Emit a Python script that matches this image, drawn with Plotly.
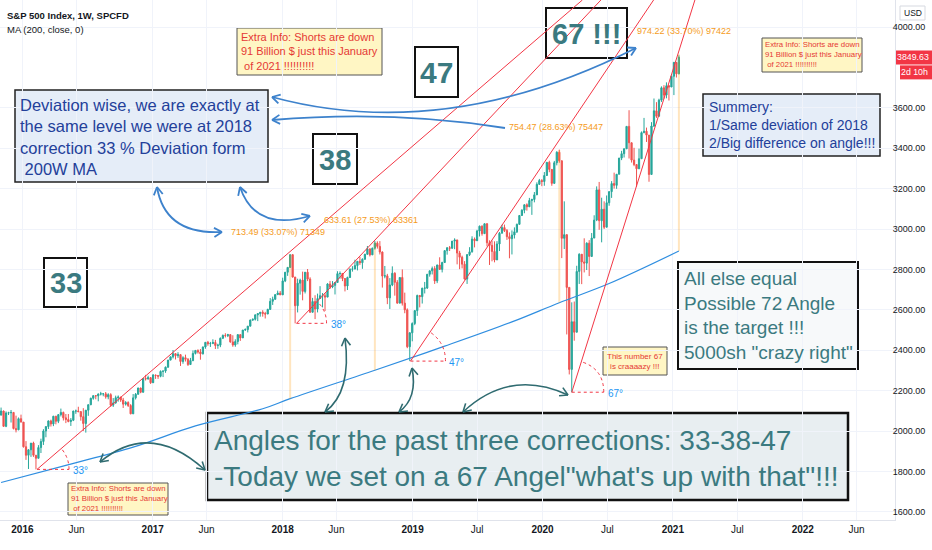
import math
import pandas as pd
import plotly.graph_objects as go

# ---------------- data (weekly S&P 500 CFD) ----------------
first_open = 2079
last_week = "2021-01-18"

close_2015 = [2099, 2023, 2089, 2090, 2092, 2012, 2006, 2061, 2044]
high_2015 = [2116, 2101, 2097, 2095, 2104, 2093, 2076, 2067, 2081]
low_2015 = [2076, 2022, 2019, 2079, 2042, 2008, 1993, 2004, 2043]

close_2016 = [1922, 1880, 1907, 1940, 1880, 1865, 1918, 1948, 2000, 2022, 2050, 2035, 2073, 2048, 2081, 2092,
              2065, 2057, 2047, 2053, 2099, 2099, 2096, 2071, 2037, 2103, 2130, 2162, 2175, 2174, 2183, 2184,
              2184, 2169, 2180, 2128, 2139, 2165, 2168, 2153, 2133, 2141, 2126, 2085, 2164, 2182, 2213, 2192,
              2260, 2258, 2264, 2239]
high_2016 = [2044, 1950, 1910, 1940, 1947, 1881, 1930, 1962, 2009, 2022, 2052, 2056, 2075, 2075, 2084, 2111,
             2096, 2084, 2084, 2064, 2100, 2106, 2120, 2095, 2113, 2104, 2132, 2165, 2176, 2177, 2186, 2194,
             2188, 2193, 2187, 2187, 2163, 2175, 2176, 2169, 2164, 2148, 2147, 2133, 2183, 2188, 2214, 2214,
             2260, 2278, 2274, 2267]
low_2016 = [1918, 1857, 1812, 1872, 1872, 1810, 1865, 1891, 1931, 1969, 2010, 2022, 2024, 2033, 2039, 2072,
            2052, 2039, 2043, 2025, 2049, 2085, 2093, 2051, 2000, 1992, 2075, 2128, 2155, 2157, 2147, 2176,
            2172, 2160, 2157, 2120, 2119, 2135, 2145, 2144, 2114, 2126, 2119, 2083, 2084, 2156, 2180, 2187,
            2190, 2250, 2254, 2233]

close_2017 = [2277, 2275, 2271, 2295, 2297, 2316, 2351, 2367, 2383, 2373, 2378, 2344, 2363, 2355, 2329, 2349,
              2384, 2399, 2391, 2382, 2416, 2439, 2432, 2433, 2438, 2423, 2425, 2459, 2473, 2472, 2477, 2441,
              2426, 2443, 2477, 2461, 2500, 2502, 2519, 2549, 2553, 2575, 2581, 2588, 2582, 2579, 2602, 2642,
              2652, 2675, 2683, 2674]
high_2017 = [2282, 2279, 2276, 2300, 2299, 2319, 2352, 2368, 2401, 2384, 2390, 2381, 2370, 2378, 2361, 2362,
             2399, 2401, 2404, 2406, 2418, 2440, 2446, 2441, 2454, 2451, 2432, 2463, 2478, 2484, 2481, 2480,
             2474, 2454, 2480, 2475, 2500, 2508, 2520, 2552, 2557, 2576, 2582, 2588, 2598, 2590, 2605, 2658,
             2665, 2678, 2695, 2693]
low_2017 = [2245, 2258, 2258, 2266, 2267, 2288, 2313, 2352, 2359, 2354, 2362, 2322, 2333, 2344, 2322, 2328,
            2345, 2379, 2383, 2353, 2379, 2407, 2422, 2416, 2430, 2406, 2407, 2415, 2455, 2463, 2465, 2437,
            2417, 2417, 2429, 2446, 2461, 2496, 2488, 2520, 2545, 2547, 2544, 2566, 2566, 2557, 2580, 2600,
            2624, 2650, 2676, 2673]

close_2018 = [2743, 2786, 2810, 2873, 2762, 2620, 2732, 2747, 2691, 2786, 2752, 2588, 2641, 2604, 2656, 2670,
              2670, 2663, 2728, 2713, 2721, 2735, 2779, 2780, 2755, 2718, 2760, 2801, 2802, 2819, 2840, 2833,
              2850, 2875, 2902, 2872, 2905, 2930, 2914, 2886, 2767, 2768, 2659, 2723, 2781, 2736, 2633, 2760,
              2633, 2600, 2417, 2486, 2532]
high_2018 = [2759, 2787, 2810, 2873, 2870, 2763, 2754, 2754, 2789, 2787, 2802, 2761, 2659, 2672, 2680, 2717,
             2683, 2682, 2732, 2743, 2742, 2736, 2791, 2790, 2779, 2754, 2764, 2805, 2816, 2848, 2841, 2863,
             2855, 2877, 2916, 2902, 2908, 2941, 2939, 2940, 2889, 2817, 2778, 2757, 2815, 2786, 2747, 2760,
             2800, 2685, 2607, 2489, 2538]
low_2018 = [2682, 2737, 2768, 2808, 2760, 2533, 2587, 2675, 2647, 2681, 2742, 2585, 2593, 2554, 2587, 2660,
            2612, 2594, 2664, 2703, 2707, 2676, 2735, 2754, 2742, 2691, 2698, 2758, 2789, 2800, 2795, 2822,
            2803, 2853, 2876, 2864, 2873, 2898, 2903, 2874, 2710, 2756, 2628, 2604, 2717, 2670, 2631, 2649,
            2621, 2583, 2410, 2346, 2444]

close_2019 = [2596, 2671, 2665, 2707, 2708, 2776, 2793, 2804, 2743, 2822, 2800, 2834, 2893, 2907, 2905, 2940,
              2946, 2881, 2860, 2826, 2752, 2873, 2887, 2950, 2942, 2990, 3014, 2977, 3026, 2932, 2919, 2889,
              2847, 2926, 2979, 3007, 2992, 2962, 2952, 2970, 2986, 3023, 3067, 3093, 3120, 3110, 3141, 3146,
              3169, 3221, 3240, 3235]
high_2019 = [2597, 2675, 2670, 2709, 2738, 2776, 2794, 2814, 2816, 2823, 2860, 2838, 2893, 2910, 2916, 2940,
             2954, 2931, 2892, 2868, 2841, 2876, 2910, 2964, 2958, 2996, 3017, 3018, 3028, 3029, 2944, 2943,
             2939, 2940, 2985, 3021, 3022, 3000, 2983, 2993, 3008, 3027, 3067, 3098, 3121, 3127, 3154, 3150,
             3183, 3231, 3248, 3247]
low_2019 = [2524, 2570, 2612, 2631, 2681, 2703, 2764, 2775, 2728, 2732, 2798, 2785, 2848, 2873, 2891, 2902,
            2900, 2825, 2801, 2805, 2750, 2728, 2866, 2883, 2909, 2952, 2963, 2967, 2976, 2914, 2822, 2840,
            2835, 2853, 2891, 2979, 2985, 2946, 2855, 2874, 2953, 2980, 3023, 3066, 3078, 3091, 3115, 3070,
            3132, 3183, 3223, 3212]

close_2020 = [3265, 3330, 3295, 3226, 3328, 3380, 3338, 2954, 2972, 2711, 2305, 2541, 2489, 2790, 2875, 2837,
              2831, 2930, 2864, 2955, 3044, 3194, 3041, 3098, 3009, 3130, 3185, 3225, 3216, 3271, 3351, 3373,
              3397, 3508, 3427, 3341, 3319, 3298, 3348, 3477, 3484, 3465, 3270, 3510, 3585, 3558, 3638, 3699,
              3663, 3709, 3703, 3756]
high_2020 = [3282, 3330, 3338, 3285, 3337, 3385, 3393, 3338, 3137, 2882, 2711, 2637, 2641, 2818, 2880, 2869,
             2954, 2934, 2945, 2980, 3068, 3211, 3233, 3155, 3137, 3166, 3187, 3237, 3279, 3272, 3352, 3387,
             3399, 3509, 3588, 3425, 3402, 3321, 3398, 3483, 3550, 3502, 3465, 3529, 3646, 3628, 3645, 3706,
             3712, 3726, 3712, 3760]
low_2020 = [3214, 3263, 3281, 3214, 3223, 3315, 3328, 2856, 2901, 2478, 2280, 2192, 2447, 2489, 2728, 2727,
            2785, 2797, 2767, 2864, 2955, 3039, 2996, 2934, 3000, 3009, 3115, 3154, 3200, 3199, 3271, 3341,
            3354, 3397, 3349, 3329, 3311, 3209, 3297, 3348, 3474, 3431, 3234, 3270, 3505, 3550, 3559, 3629,
            3645, 3647, 3636, 3703]

close_2021 = [3825, 3768, 3850]
high_2021 = [3827, 3823, 3860]
low_2021 = [3663, 3750, 3766]

ma_dates = ["2015-11-02", "2016-05-02", "2016-11-07", "2017-05-01", "2017-11-06", "2018-01-22", "2018-09-17",
            "2019-04-01", "2019-10-07", "2020-02-17", "2020-07-06", "2021-01-18"]
ma_values = [1745, 1830, 1920, 2025, 2110, 2160, 2301, 2420, 2540, 2635, 2730, 2891]

# price-range measurements (date, base on MA, top)
range_dates = ["2018-01-22", "2018-09-17", "2020-02-17", "2021-01-18"]
range_low = [2160, 2301, 2635, 2891]
range_high = [2873, 2935, 3390, 3865]
range_labels = ["713.49 (33.07%) 71349", "633.61 (27.53%) 63361", "754.47 (28.63%) 75447", "974.22 (33.70%) 97422"]

# trend lines drawn by the author
trend_start_dates = ["2016-02-11", "2018-02-09", "2018-12-26", "2020-03-23"]
trend_start_prices = [1810, 2533, 2346, 2192]
trend_end_dates = ["2020-04-22", "2020-06-13", "2020-11-08", "2021-03-04"]
trend_end_prices = [4134, 4134, 4134, 4134]
angle_labels = ["33°", "38°", "47°", "67°"]
angle_radius = [32, 30, 35, 32]

last_price = 3849.63

tick_dates = ["2016-01-01", "2016-06-01", "2017-01-01", "2017-06-01", "2018-01-01", "2018-06-01",
              "2019-01-01", "2019-07-01", "2020-01-01", "2020-07-01", "2021-01-01", "2021-07-01",
              "2022-01-01", "2022-06-01"]
tick_text = ["2016", "Jun", "2017", "Jun", "2018", "Jun", "2019", "Jul", "2020", "Jul", "2021", "Jul", "2022", "Jun"]
price_ticks = [1600, 1800, 2000, 2200, 2400, 2600, 2800, 3000, 3200, 3400, 3600, 4000]

# ---------------- assemble ----------------
closes = close_2015 + close_2016 + close_2017 + close_2018 + close_2019 + close_2020 + close_2021
highs = high_2015 + high_2016 + high_2017 + high_2018 + high_2019 + high_2020 + high_2021
lows = low_2015 + low_2016 + low_2017 + low_2018 + low_2019 + low_2020 + low_2021
opens = [first_open] + closes[:-1]
dates = pd.date_range(end=last_week, periods=len(closes), freq="W-MON")

W, H = 932, 550
PW, PH = 895, 520
X0, X1 = pd.Timestamp("2015-10-30"), pd.Timestamp("2022-09-17")
Y0, Y1 = 1559.4, 4133.7
FONT = "Liberation Sans, Arial, sans-serif"
TEAL = "#3b7a80"
NAVY = "#23409a"
BLUE = "#3d82cc"
DTEAL = "#2f6b70"
RED = "#f23645"
TXT = "#131722"


def dpx(d):
    return (pd.Timestamp(d) - X0).days / (X1 - X0).days * PW


def vpy(v):
    return (Y1 - v) / (Y1 - Y0) * PH


def P(x, y):
    return f"{x / PW:.5f},{1 - y / PH:.5f}"


shapes = []
annos = []


def box(x0, y0, x1, y1, fill, border="#222", bw=1.5):
    shapes.append(dict(type="rect", xref="paper", yref="paper", x0=x0 / PW, x1=x1 / PW,
                       y0=1 - y1 / PH, y1=1 - y0 / PH, fillcolor=fill,
                       line=dict(color=border, width=bw), layer="between"))


def text(x, y, s, size, color, xa="left", ya="middle", align="left", weight="normal"):
    annos.append(dict(xref="paper", yref="paper", x=x / PW, y=1 - y / PH, text=s, showarrow=False,
                      xanchor=xa, yanchor=ya, align=align, borderpad=0,
                      font=dict(family=FONT, size=size, color=color, weight=weight)))


def seg(p, q, color, width, dash="solid"):
    shapes.append(dict(type="path", xref="paper", yref="paper", path=f"M {P(*p)} L {P(*q)}",
                       line=dict(color=color, width=width, dash=dash), layer="above"))


def head(tip, frm, color, width, L=9, ang=30):
    dx, dy = tip[0] - frm[0], tip[1] - frm[1]
    n = math.hypot(dx, dy)
    ux, uy = -dx / n, -dy / n
    for s in (1, -1):
        a = math.radians(ang * s)
        bx = ux * math.cos(a) - uy * math.sin(a)
        by = ux * math.sin(a) + uy * math.cos(a)
        seg(tip, (tip[0] + L * bx, tip[1] + L * by), color, width)


def curve(p0, c, p1, color, width=1.6, h0=True, h1=True):
    shapes.append(dict(type="path", xref="paper", yref="paper",
                       path=f"M {P(*p0)} Q {P(*c)} {P(*p1)}",
                       line=dict(color=color, width=width), layer="above"))
    if h0:
        head(p0, c, color, width)
    if h1:
        head(p1, c, color, width)


fig = go.Figure()

fig.add_trace(go.Candlestick(x=dates, open=opens, high=highs, low=lows, close=closes,
                             increasing=dict(line=dict(color="#26a69a", width=1), fillcolor="#26a69a"),
                             decreasing=dict(line=dict(color="#ef5350", width=1), fillcolor="#ef5350"),
                             whiskerwidth=0, hoverinfo="skip", showlegend=False))

fig.add_trace(go.Scatter(x=ma_dates, y=ma_values, mode="lines", line=dict(color="#2f8ee0", width=1.2, shape="spline"),
                         hoverinfo="skip", showlegend=False))

# price range measurement lines
for d, lo, hi in zip(range_dates, range_low, range_high):
    fig.add_trace(go.Scatter(x=[d, d], y=[lo, hi], mode="lines",
                             line=dict(color="rgba(255,152,0,0.25)", width=2),
                             hoverinfo="skip", showlegend=False))

# trend lines + angle marks
for sd, sp, ed, ep, lab, r in zip(trend_start_dates, trend_start_prices, trend_end_dates, trend_end_prices,
                                   angle_labels, angle_radius):
    fig.add_trace(go.Scatter(x=[sd, ed], y=[sp, ep], mode="lines", line=dict(color=RED, width=1),
                             hoverinfo="skip", showlegend=False))
    ax, ay = dpx(sd), vpy(sp)
    bx, by = dpx(ed), vpy(ep)
    th = math.atan2(ay - by, bx - ax)
    seg((ax, ay), (ax + r, ay), RED, 1, "dot")
    shapes.append(dict(type="path", xref="paper", yref="paper",
                       path=f"M {P(ax + r, ay)} Q {P(ax + r, ay - r * math.tan(th / 2))} "
                            f"{P(ax + r * math.cos(th), ay - r * math.sin(th))}",
                       line=dict(color=RED, width=1, dash="dot"), layer="above"))
    text(ax + r + 3, ay + 1, lab, 10, "#2196f3")

# range labels
label_pos = [(230, 232), (323, 220), (508, 127), (636, 31)]
for (lx, ly), s in zip(label_pos, range_labels):
    text(lx, ly, s, 9, "#f59b1c")

# ---------------- boxes ----------------
YEL = "#fff6c4"
EXTRA = "Extra Info: Shorts are down<br>91 Billion $ just this January<br> of 2021 !!!!!!!!!!"
box(237, 28, 382, 75, YEL, "#555", 1)
text(240, 51.5, EXTRA, 11, "#e53935")
box(762, 38, 862, 72, YEL, "#555", 1)
text(764, 54.5, EXTRA, 7.8, "#e53935")
box(68, 483, 168, 515, YEL, "#555", 1)
text(70, 498.5, EXTRA, 7.8, "#e53935")
box(603, 347, 667, 375, YEL, "#555", 1)
text(635, 361, "This number 67<br>is craaaazy !!!", 8, "#e53935", xa="center", align="center")

box(415, 47, 458, 97, "#ffffff", "#111", 2)
text(436.5, 73, "47", 30, TEAL, xa="center", weight="bold")
box(546, 8, 627, 58, "#ffffff", "#111", 2)
text(586.5, 34, "67 !!!", 29, TEAL, xa="center", weight="bold")
box(313, 134, 357, 184, "#ffffff", "#111", 2)
text(335, 160, "38", 29, TEAL, xa="center", weight="bold")
box(44, 258, 87, 307, "#ffffff", "#111", 2)
text(65.5, 283, "33", 29, TEAL, xa="center", weight="bold")

box(15, 90, 268, 182, "#e5edf8", "#222", 1.5)
text(19, 137, "Deviation wise, we are exactly at<br>the same level we were at 2018<br>correction 33 % Deviation form<br> 200W MA",
     16.5, NAVY)
box(703, 94, 880, 156, "#e5edf8", "#222", 1.5)
text(708, 125, "Summery:<br>1/Same deviation of 2018<br>2/Big difference on angle!!!", 14, NAVY)

box(678, 262, 858, 369, "#f7f9fa", "#111", 2)
text(683, 315, "All else equal<br>Possible 72 Angle<br>is the target !!!<br>5000sh \"crazy right\"", 19, TEAL)

box(207, 413, 848, 500, "#e8eef1", "#111", 2.5)
text(213, 458, "Angles for the past three corrections: 33-38-47<br>-Today we set on a 67 Angel\"what's up with that\"!!!",
     28, TEAL)

# ---------------- arrows ----------------
curve((272, 97), (446, 144), (636, 48), BLUE, 1.8)
curve((272, 120), (392, 110), (505, 128), BLUE, 1.8, h0=True, h1=False)
curve((157, 187), (165, 235), (222, 232), BLUE, 1.8)
curve((240, 187), (255, 232), (310, 216), BLUE, 1.8)

curve((100, 462), (150, 420), (205, 470), DTEAL, 1.6)
curve((325, 412), (352, 392), (345, 338), DTEAL, 1.6)
curve((399, 412), (418, 398), (412, 368), DTEAL, 1.6)
curve((463, 412), (510, 368), (568, 395), DTEAL, 1.6)

# ---------------- header / axis extras ----------------
text(6, 15, "S&P 500 Index, 1W, SPCFD", 9.5, TXT, weight="bold")
text(6, 29, "MA (200, close, 0)", 9.5, TXT)

shapes.append(dict(type="rect", xref="paper", yref="paper", x0=900 / PW, x1=925 / PW, y0=1 - 20 / PH, y1=1 - 6 / PH,
                   fillcolor="#ffffff", line=dict(color="#d6d9e0", width=1), layer="above"))
text(912.5, 13, "USD", 8.5, TXT, xa="center")
ty = vpy(last_price)
shapes.append(dict(type="rect", xref="paper", yref="paper", x0=896 / PW, x1=932 / PW, y0=1 - (ty + 7) / PH,
                   y1=1 - (ty - 7) / PH, fillcolor=RED, line=dict(width=0), layer="above"))
text(930, ty, f"{last_price:.2f}", 8.8, "#ffffff", xa="right")
shapes.append(dict(type="rect", xref="paper", yref="paper", x0=900 / PW, x1=932 / PW, y0=1 - (ty + 22) / PH,
                   y1=1 - (ty + 8) / PH, fillcolor=RED, line=dict(width=0), layer="above"))
text(929, ty + 15, "2d 10h", 8.8, "#ffffff", xa="right")

fig.update_layout(
    width=W, height=H,
    margin=dict(l=0, r=W - PW, t=0, b=H - PH),
    paper_bgcolor="#ffffff", plot_bgcolor="#ffffff",
    shapes=shapes, annotations=annos,
    showlegend=False,
    xaxis=dict(type="date", range=[X0, X1], tickvals=tick_dates,
               ticktext=[f"<b>{t}</b>" if t.isdigit() else t for t in tick_text],
               tickfont=dict(family=FONT, size=10, color=TXT),
               showgrid=True, gridcolor="#f0f3fa", gridwidth=1, zeroline=False,
               showline=True, linecolor="#e0e3eb", ticks="", rangeslider=dict(visible=False),
               fixedrange=True),
    yaxis=dict(range=[Y0, Y1], side="right", tickvals=price_ticks,
               ticktext=[f"{v:.2f}" for v in price_ticks],
               tickfont=dict(family=FONT, size=9, color=TXT), ticklabelstandoff=-5,
               showgrid=True, gridcolor="#f0f3fa", gridwidth=1, zeroline=False,
               showline=True, linecolor="#e0e3eb", ticks="", automargin=False, fixedrange=True),
)

fig.write_html("out.html", config={"displayModeBar": False},
               post_script="document.body.style.margin='0';document.body.style.overflow='hidden';")
